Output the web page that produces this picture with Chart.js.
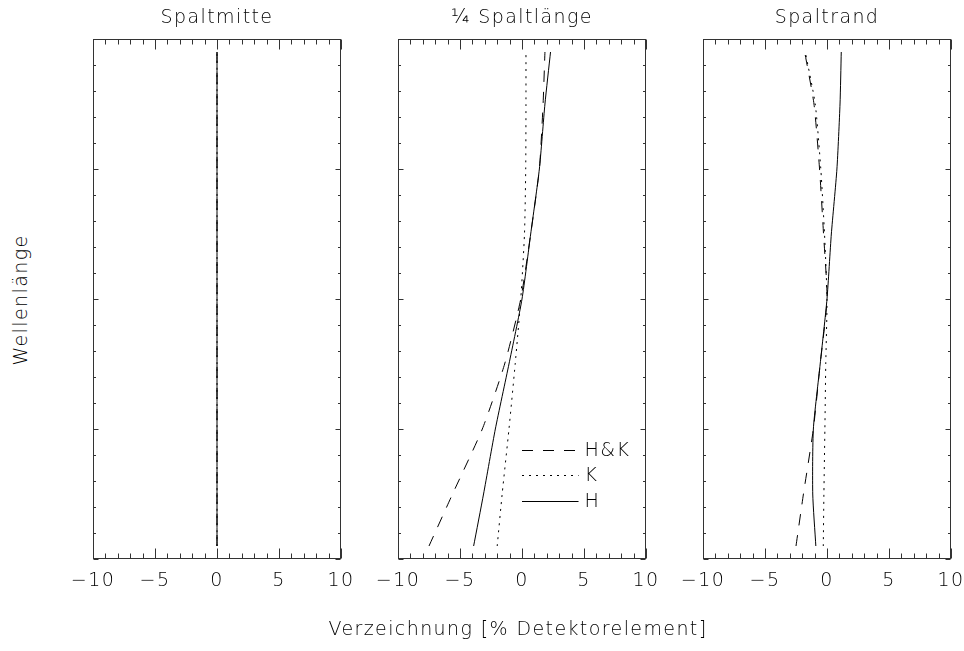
<!DOCTYPE html>
<html>
<head>
<meta charset="utf-8">
<script src="https://cdn.jsdelivr.net/npm/chart.js@4.4.0/dist/chart.umd.min.js"></script>
<style>
  html, body { margin: 0; padding: 0; background: #fff; overflow: hidden; }
  body { width: 964px; height: 651px; position: relative; font-family: 'DejaVu Sans', sans-serif; color: #000; }
  .panel { position: absolute; top: 0; width: 328px; height: 651px; }
  .ytitle { position: absolute; left: 20px; top: 300px; transform: translate(-50%, -50%) rotate(-90deg); font-size: 19px; letter-spacing: 1.4px; white-space: nowrap; font-weight: 300; }
  .xtitle { position: absolute; left: 518px; top: 628px; transform: translate(-50%, -50%); font-size: 19px; letter-spacing: 1.4px; white-space: nowrap; font-weight: 300; }
</style>
</head>
<body>
<div class="panel" style="left:53px"><canvas id="c1"></canvas></div>
<div class="panel" style="left:358px"><canvas id="c2"></canvas></div>
<div class="panel" style="left:663px"><canvas id="c3"></canvas></div>
<div class="ytitle">Wellenlänge</div>
<div class="xtitle">Verzeichnung [% Detektorelement]</div>
<script>
// wavelength positions (arbitrary units, axis has no labels)
var wl = [0.1, 0.5, 1.0, 1.5, 2.0, 2.5, 3.0, 3.5, 3.9];

// distortion in % of a detector element, per panel and filter
var mitteHK = [0, 0, 0, 0, 0, 0, 0, 0, 0];
var mitteK  = [0, 0, 0, 0, 0, 0, 0, 0, 0];
var mitteH  = [0, 0, 0, 0, 0, 0, 0, 0, 0];

var viertelHK = [-7.5, -5.6, -3.2, -1.4, -0.1, 0.7, 1.4, 1.7, 1.85];
var viertelK  = [-2.0, -1.6, -1.05, -0.55, -0.1, 0.2, 0.3, 0.32, 0.32];
var viertelH  = [-3.9, -3.1, -2.15, -1.05, 0, 0.7, 1.4, 1.85, 2.3];

var randHK = [-2.5, -1.9, -1.1, -0.55, 0, -0.28, -0.6, -1.05, -1.8];
var randK  = [-0.3, -0.25, -0.17, -0.1, 0, -0.2, -0.5, -0.95, -1.75];
var randH  = [-0.9, -1.15, -1.1, -0.55, 0, 0.35, 0.8, 1.05, 1.15];

var titles = ['Spaltmitte', '¼ Spaltlänge', 'Spaltrand'];
var seriesNames = ['H&K', 'K', 'H'];
var xTicks = [-10, -5, 0, 5, 10];

var ink = '#000';
var fontFamily = "'DejaVu Sans', sans-serif";

function pts(xs) {
    return xs.map(function (v, i) { return { x: v, y: wl[i] }; });
}

// wider lettering, closer to the plotting font
var spacingPlugin = {
    id: 'spacing',
    beforeLayout: function (chart) { chart.ctx.letterSpacing = '1.4px'; },
    beforeDraw: function (chart) { chart.ctx.letterSpacing = '1.4px'; }
};

// box with inward ticks on all four sides, IDL style
var boxPlugin = {
    id: 'box',
    afterDraw: function (chart) {
        var ctx = chart.ctx, a = chart.chartArea;
        var xs = chart.scales.x, ys = chart.scales.y;
        var L = Math.round(a.left) + 0.5, R = Math.round(a.right) - 0.5;
        var T = Math.round(a.top) + 0.5, B = Math.round(a.bottom) - 0.5;
        ctx.save();
        ctx.strokeStyle = '#333';
        ctx.lineWidth = 1;
        ctx.setLineDash([]);
        ctx.strokeRect(L, T, R - L, B - T);
        ctx.beginPath();
        for (var v = -10; v <= 10; v++) {
            var px = Math.round(xs.getPixelForValue(v)) + 0.5;
            var len = (v % 5 === 0) ? 10 : 5;
            ctx.moveTo(px, B); ctx.lineTo(px, B - len);
            ctx.moveTo(px, T); ctx.lineTo(px, T + len);
        }
        for (var i = 0; i <= 20; i++) {
            var py = Math.round(ys.getPixelForValue(i * 0.2)) + 0.5;
            var l2 = (i % 5 === 0) ? 5 : 2.5;
            ctx.moveTo(L, py); ctx.lineTo(L + l2, py);
            ctx.moveTo(R, py); ctx.lineTo(R - l2, py);
        }
        ctx.stroke();
        ctx.restore();
    }
};

// legend drawn inside the middle panel
var legendPlugin = {
    id: 'inlegend',
    afterDraw: function (chart) {
        if (!chart.options.plugins.inlegend || !chart.options.plugins.inlegend.show) return;
        var ctx = chart.ctx, a = chart.chartArea;
        var w = a.right - a.left, h = a.bottom - a.top;
        var x0 = a.left + 0.5 * w, x1 = a.left + 0.728 * w;
        var rows = [0.79, 0.838, 0.889];
        ctx.save();
        ctx.font = '300 19px ' + fontFamily;
        ctx.textBaseline = 'middle';
        chart.data.datasets.forEach(function (ds, i) {
            var y = Math.round(a.top + rows[i] * h) + 0.5;
            ctx.strokeStyle = ds.borderColor;
            ctx.lineWidth = ds.borderWidth;
            ctx.setLineDash(ds.borderDash || []);
            ctx.beginPath();
            ctx.moveTo(x0, y); ctx.lineTo(x1, y);
            ctx.stroke();
            ctx.fillStyle = ink;
            ctx.fillText(ds.label, x1 + 6, y + 1);
        });
        ctx.restore();
    }
};

function makePanel(id, title, hk, k, h, showLegend) {
    new Chart(id, {
        type: 'scatter',
        data: {
            datasets: [
                { label: seriesNames[0], data: pts(hk), showLine: true, borderColor: '#000', borderWidth: 1, borderDash: [11, 10], pointRadius: 0, tension: 0.2 },
                { label: seriesNames[1], data: pts(k), showLine: true, borderColor: '#000', borderWidth: 1, borderDash: [2, 5], pointRadius: 0, tension: 0.2 },
                { label: seriesNames[2], data: pts(h), showLine: true, borderColor: '#000', borderWidth: 1, pointRadius: 0, tension: 0.2 }
            ]
        },
        options: {
            responsive: false,
            animation: false,
            devicePixelRatio: 1,
            layout: { padding: { left: 40, right: 40, top: 0, bottom: 52 } },
            plugins: {
                legend: { display: false },
                tooltip: { enabled: false },
                inlegend: { show: showLegend },
                title: {
                    display: true,
                    text: title,
                    color: ink,
                    font: { family: fontFamily, size: 19, weight: '300', lineHeight: 1.2 },
                    padding: { top: 7, bottom: 9.2 }
                }
            },
            scales: {
                x: {
                    type: 'linear',
                    min: -10, max: 10,
                    grid: { display: false, drawTicks: false },
                    border: { display: false },
                    afterBuildTicks: function (s) { s.ticks = xTicks.map(function (v) { return { value: v }; }); },
                    afterFit: function (s) { s.height = 40; },
                    ticks: {
                        autoSkip: false,
                        maxRotation: 0,
                        padding: 11,
                        color: ink,
                        font: { family: fontFamily, size: 19, weight: '300' },
                        callback: function (v) { return v < 0 ? '\u2212' + Math.abs(v) : String(v); }
                    }
                },
                y: { type: 'linear', min: 0, max: 4, display: false }
            }
        },
        plugins: [spacingPlugin, boxPlugin, legendPlugin]
    });
}

var cs = ['c1', 'c2', 'c3'];
cs.forEach(function (id) {
    var c = document.getElementById(id);
    c.width = 328; c.height = 651;
});

makePanel('c1', titles[0], mitteHK, mitteK, mitteH, false);
makePanel('c2', titles[1], viertelHK, viertelK, viertelH, true);
makePanel('c3', titles[2], randHK, randK, randH, false);
</script>
</body>
</html>
